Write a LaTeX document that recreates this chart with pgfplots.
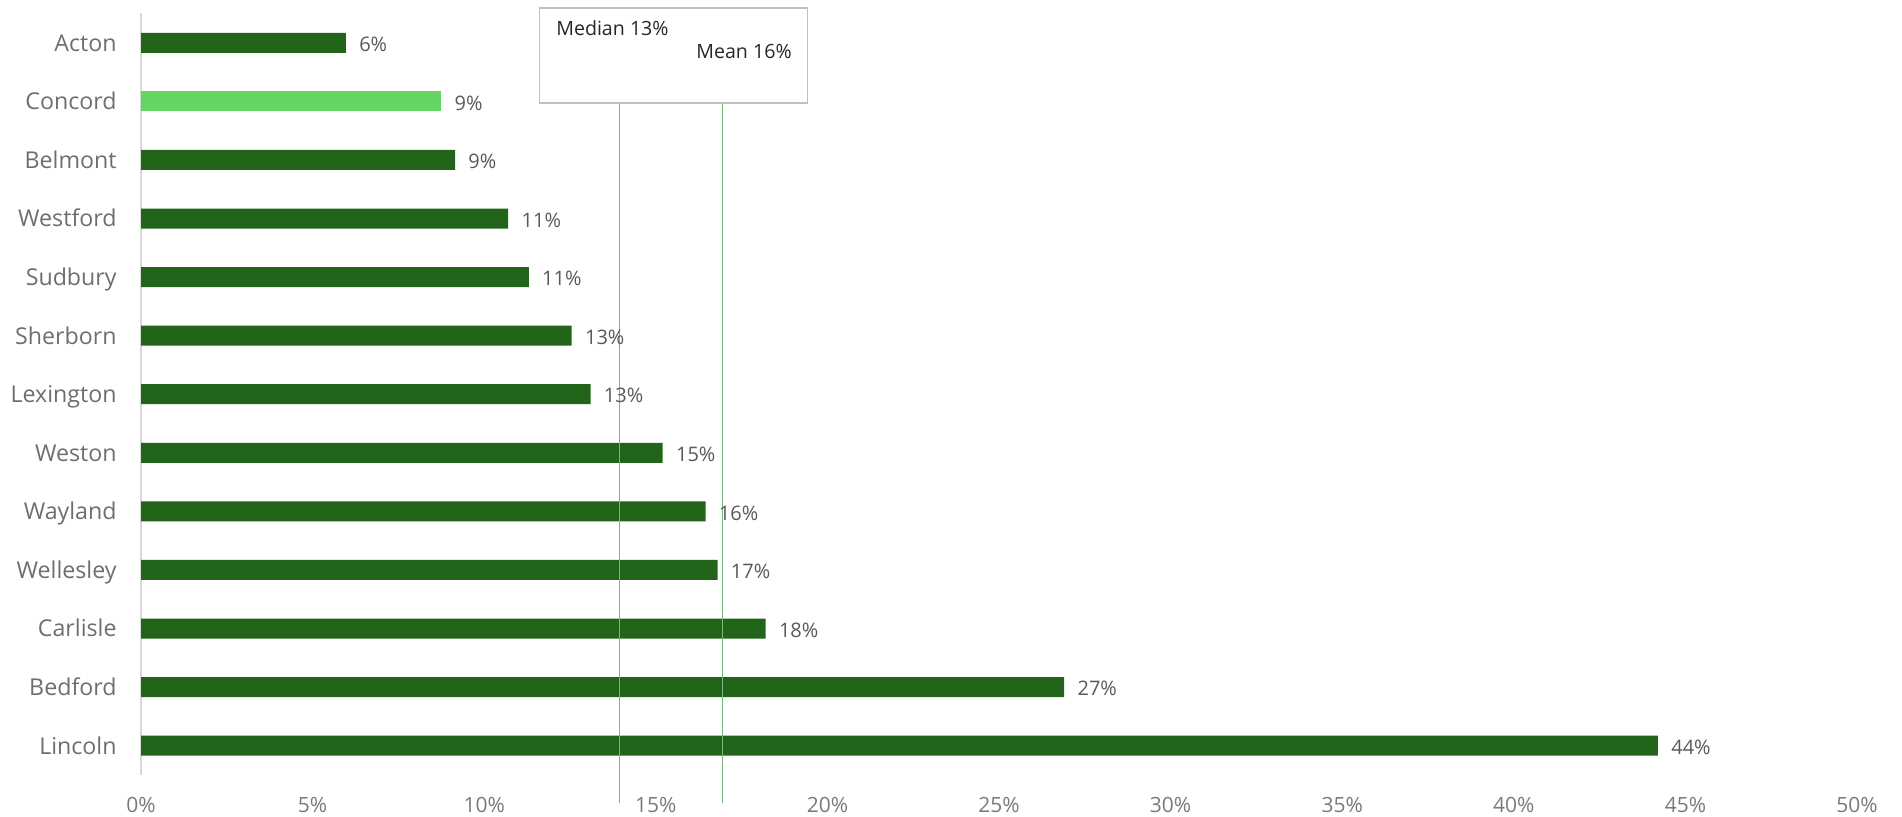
\documentclass[border=0pt]{standalone}
\usepackage{pgfplots}
\pgfplotsset{compat=1.18}
\usepackage{fontspec}
\setmainfont{Open Sans}
\definecolor{bardark}{HTML}{226419}
\definecolor{barlight}{HTML}{66D460}
\definecolor{refline}{HTML}{78BA78}
\definecolor{catgray}{HTML}{6E6E6E}
\definecolor{lblgray}{HTML}{595959}
\definecolor{tickgray}{HTML}{7A7A7A}
\definecolor{boxgray}{HTML}{BFBFBF}
\pgfplotsset{barstyle/.style={xbar, bar width=10pt, bar shift=0pt, draw=none,
    point meta=explicit symbolic, nodes near coords,
    nodes near coords style={font=\fontsize{10}{12}\selectfont, text=lblgray, anchor=west, inner sep=0pt, xshift=6.5pt, yshift=-0.8pt}}}
\begin{document}
\begin{tikzpicture}
\useasboundingbox (0,0) rectangle (951pt,408.5pt);
\begin{axis}[
    at={(70.5pt,21pt)}, anchor=south west,
    scale only axis, width=858pt, height=380.75pt,
    xmin=0, xmax=50, ymin=-0.5, ymax=12.5,
    y dir=reverse,
    axis x line*=bottom, axis y line*=left,
    x axis line style={draw=none},
    y axis line style={draw=black!15, line width=0.8pt},
    major tick length=0pt, tick style={draw=none},
    xtick={0,5,...,50},
    xticklabels={0\%,5\%,10\%,15\%,20\%,25\%,30\%,35\%,40\%,45\%,50\%},
    ytick={0,...,12},
    yticklabels={Acton,Concord,Belmont,Westford,Sudbury,Sherborn,Lexington,Weston,Wayland,Wellesley,Carlisle,Bedford,Lincoln},
    xticklabel style={font=\fontsize{10.5}{12}\selectfont, text=tickgray, anchor=center, inner sep=0pt, yshift=-15pt},
    yticklabel style={font=\fontsize{11.6}{14}\selectfont, text=catgray, anchor=base east, inner sep=0pt, xshift=-12pt, yshift=-4.2pt},
    /pgf/number format/assume math mode=true,
    clip=false,
]
\addplot[barstyle, fill=bardark] table[meta=lbl] {
x y lbl
5.97 0 6\%
9.15 2 9\%
10.7 3 11\%
11.3 4 11\%
12.55 5 13\%
13.1 6 13\%
15.2 7 15\%
16.45 8 16\%
16.8 9 17\%
18.2 10 18\%
26.9 11 27\%
44.2 12 44\%
};
\addplot[barstyle, fill=barlight] table[meta=lbl] {
x y lbl
8.75 1 9\%
};
% median and mean reference lines
\addplot[sharp plot, refline, line width=0.65pt, mark=none] coordinates {(13.95,1.03) (13.95,12.97)};
\addplot[sharp plot, refline, line width=0.65pt, mark=none] coordinates {(16.95,1.03) (16.95,12.97)};
\draw[boxgray, line width=0.6pt] (axis cs:11.6,-0.594) rectangle (axis cs:19.43,1.027);
\node[anchor=west, inner sep=0pt, text=black!85, font=\fontsize{9.8}{11}\selectfont] at (axis cs:12.09,-0.253) {Median 13\%};
\node[anchor=east, inner sep=0pt, text=black!85, font=\fontsize{9.8}{11}\selectfont] at (axis cs:18.97,0.157) {Mean 16\%};
\end{axis}
\end{tikzpicture}
\end{document}
